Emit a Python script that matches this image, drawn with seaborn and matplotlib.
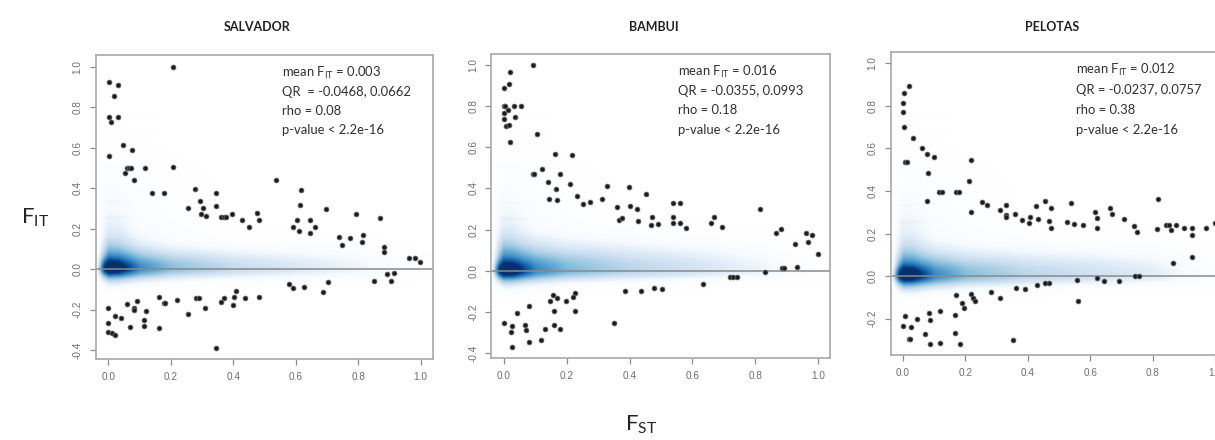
import numpy as np
import matplotlib
matplotlib.use("Agg")
import matplotlib.pyplot as plt
from matplotlib.colors import LinearSegmentedColormap
import seaborn as sns

sns.set_theme(style="white")
plt.rcParams["font.family"] = ["Lato", "DejaVu Sans"]
plt.rcParams["mathtext.fontset"] = "custom"
plt.rcParams["mathtext.rm"] = "Lato"

# ---------------- outlying SNPs (F_ST, F_IT) ----------------
salvador_fst = [0.208, 0.003, 0.030, 0.019, 0.002, 0.009, 0.030, 0.002, 0.046, 0.076,
                0.053, 0.059, 0.066, 0.072, 0.082, 0.118, 0.208, 0.141, 0.177, 0.255,
                0.276, 0.295, 0.302, 0.296, 0.312, 0.344, 0.344, 0.362, 0.369, 0.376,
                0.396, 0.429, 0.450, 0.475, 0.481, 0.536, 0.592, 0.604, 0.613, 0.616,
                0.609, 0.645, 0.647, 0.662, 0.697, 0.739, 0.747, 0.774, 0.792, 0.814,
                0.812, 0.869, 0.883, 0.883, 0.963, 0.982, 0.998,
                0.892, 0.915, 0.904, 0.851, 0.703, 0.686, 0.625, 0.580, 0.592,
                0.000, 0.000, 0.000, 0.013, 0.021, 0.023, 0.041, 0.061, 0.068, 0.081,
                0.081, 0.093, 0.120, 0.115, 0.115, 0.162, 0.177, 0.182, 0.162, 0.221,
                0.254, 0.281, 0.291, 0.311, 0.345, 0.360, 0.369, 0.398, 0.402, 0.409,
                0.439, 0.481]
salvador_fit = [1.000, 0.923, 0.910, 0.855, 0.750, 0.725, 0.750, 0.556, 0.613, 0.586,
                0.474, 0.498, 0.498, 0.498, 0.441, 0.498, 0.502, 0.375, 0.378, 0.304,
                0.395, 0.337, 0.301, 0.273, 0.260, 0.378, 0.312, 0.255, 0.255, 0.255,
                0.273, 0.242, 0.210, 0.276, 0.240, 0.439, 0.210, 0.240, 0.316, 0.390,
                0.189, 0.243, 0.178, 0.209, 0.296, 0.158, 0.118, 0.151, 0.271, 0.168,
                0.133, 0.253, 0.110, 0.086, 0.053, 0.053, 0.035,
                -0.025, -0.021, -0.058, -0.059, -0.063, -0.112, -0.089, -0.076, -0.095,
                -0.194, -0.268, -0.311, -0.318, -0.324, -0.230, -0.243, -0.174, -0.286, -0.191,
                -0.204, -0.158, -0.209, -0.253, -0.283, -0.140, -0.168, -0.168, -0.289, -0.155,
                -0.220, -0.142, -0.142, -0.194, -0.390, -0.163, -0.143, -0.178, -0.138, -0.110,
                -0.145, -0.137]

bambui_fst = [0.093, 0.020, 0.015, 0.000, 0.000, 0.004, 0.000, 0.000, 0.013, 0.005,
              0.016, 0.032, 0.053, 0.035, 0.020, 0.104, 0.091, 0.097, 0.120, 0.163,
              0.217, 0.178, 0.140, 0.142, 0.167, 0.170, 0.210, 0.234, 0.252, 0.274,
              0.312, 0.327, 0.361, 0.367, 0.377, 0.397, 0.403, 0.423, 0.428, 0.452,
              0.468, 0.473, 0.492, 0.537, 0.537, 0.539, 0.561, 0.561, 0.580, 0.661,
              0.670, 0.696, 0.815, 0.868, 0.883, 0.962, 0.982, 0.969, 0.926, 1.000,
              0.932, 0.885, 0.892, 0.833, 0.720, 0.730, 0.741, 0.633, 0.505, 0.477,
              0.438, 0.387, 0.350, 0.226, 0.219, 0.197, 0.227, 0.157, 0.170, 0.148,
              0.158, 0.161, 0.179, 0.132, 0.080, 0.042, 0.000, 0.027, 0.021, 0.067,
              0.069, 0.081, 0.118, 0.025]
bambui_fit = [1.000, 0.964, 0.909, 0.888, 0.800, 0.800, 0.768, 0.739, 0.783, 0.703,
              0.710, 0.800, 0.800, 0.747, 0.627, 0.663, 0.468, 0.468, 0.494, 0.567,
              0.564, 0.468, 0.429, 0.350, 0.395, 0.345, 0.421, 0.361, 0.326, 0.334,
              0.350, 0.413, 0.310, 0.246, 0.256, 0.407, 0.314, 0.301, 0.243, 0.373,
              0.222, 0.263, 0.227, 0.331, 0.259, 0.233, 0.331, 0.230, 0.206, 0.233,
              0.263, 0.211, 0.300, 0.185, 0.201, 0.185, 0.173, 0.141, 0.131, 0.081,
              0.018, 0.015, 0.011, -0.008, -0.031, -0.031, -0.031, -0.063, -0.091, -0.086,
              -0.097, -0.097, -0.253, -0.107, -0.126, -0.149, -0.194, -0.117, -0.133, -0.146,
              -0.194, -0.266, -0.282, -0.285, -0.173, -0.206, -0.253, -0.271, -0.297, -0.266,
              -0.288, -0.347, -0.337, -0.370]

pelotas_fst = [0.020, 0.003, 0.000, 0.000, 0.003, 0.033, 0.005, 0.013, 0.061, 0.076,
               0.100, 0.079, 0.078, 0.115, 0.125, 0.169, 0.178, 0.218, 0.212, 0.218,
               0.253, 0.269, 0.312, 0.330, 0.329, 0.329, 0.360, 0.381, 0.406, 0.405,
               0.426, 0.432, 0.455, 0.469, 0.474, 0.475, 0.527, 0.540, 0.547, 0.576,
               0.614, 0.621, 0.623, 0.665, 0.671, 0.708, 0.741, 0.751, 0.817, 0.814,
               0.844, 0.853, 0.858, 0.874, 0.901, 0.925, 0.925, 0.972, 0.999, 0.866,
               0.927, 0.745, 0.755, 0.693, 0.644, 0.623, 0.562, 0.557, 0.469, 0.454,
               0.431, 0.392, 0.361, 0.311, 0.281, 0.169, 0.188, 0.194, 0.217, 0.225,
               0.232, 0.166, 0.168, 0.182, 0.118, 0.119, 0.084, 0.085, 0.085, 0.069,
               0.044, 0.027, 0.005, 0.000, 0.018, 0.024, 0.354]
pelotas_fit = [0.892, 0.859, 0.814, 0.770, 0.700, 0.648, 0.535, 0.535, 0.601, 0.573,
               0.559, 0.487, 0.354, 0.396, 0.396, 0.396, 0.396, 0.548, 0.446, 0.302,
               0.349, 0.336, 0.310, 0.336, 0.288, 0.277, 0.294, 0.263, 0.279, 0.249,
               0.330, 0.269, 0.354, 0.258, 0.227, 0.322, 0.252, 0.343, 0.243, 0.238,
               0.299, 0.272, 0.228, 0.321, 0.291, 0.268, 0.233, 0.208, 0.362, 0.221,
               0.239, 0.239, 0.218, 0.238, 0.228, 0.228, 0.194, 0.228, 0.250, 0.059,
               0.091, 0.000, 0.000, -0.025, -0.022, -0.009, -0.119, -0.020, -0.033, -0.033,
               -0.044, -0.063, -0.056, -0.105, -0.074, -0.088, -0.128, -0.149, -0.085, -0.103,
               -0.119, -0.185, -0.266, -0.321, -0.163, -0.313, -0.175, -0.207, -0.321, -0.275,
               -0.202, -0.241, -0.188, -0.235, -0.294, -0.294, -0.300]

# ---------------- smoothed SNP density profiles (along F_ST) ----------------
dens_x = [-0.04, -0.015, 0.0, 0.03, 0.06, 0.1, 0.2, 0.4, 0.6, 0.8, 0.9, 1.04]
# sharp concentration of SNPs near F_ST = 0
dens_peak = [0.0, 0.40, 0.50, 0.42, 0.22, 0.06, 0.0, 0.0, 0.0, 0.0, 0.0, 0.0]
# horizontal band around F_IT = 0
salvador_band = [0.0, 0.38, 0.55, 0.56, 0.55, 0.52, 0.44, 0.33, 0.24, 0.15, 0.08, 0.0]
bambui_band   = [0.0, 0.38, 0.56, 0.57, 0.56, 0.54, 0.47, 0.37, 0.28, 0.17, 0.09, 0.0]
pelotas_band  = [0.0, 0.38, 0.55, 0.56, 0.55, 0.53, 0.45, 0.36, 0.29, 0.21, 0.12, 0.0]
# upward / downward spread of the band
salvador_up = [0.06, 0.075, 0.08, 0.08, 0.075, 0.07, 0.065, 0.065, 0.065, 0.06, 0.055, 0.05]
bambui_up   = [0.06, 0.085, 0.09, 0.09, 0.085, 0.085, 0.085, 0.09, 0.085, 0.075, 0.065, 0.06]
pelotas_up  = [0.06, 0.075, 0.08, 0.08, 0.075, 0.075, 0.075, 0.08, 0.08, 0.075, 0.07, 0.065]
dens_down = [0.035, 0.042, 0.045, 0.045, 0.042, 0.04, 0.036, 0.034, 0.032, 0.03, 0.03, 0.03]
# faint haze of intermediate F_IT values at low F_ST
dens_tail = [0.0, 0.18, 0.25, 0.23, 0.18, 0.11, 0.05, 0.0, 0.0, 0.0, 0.0, 0.0]
# faint streaks at common low-count F_IT values
streak_fit = [0.25, 0.33, 0.5, 0.67, 0.75]

panels = [
    ("SALVADOR", salvador_fst, salvador_fit, salvador_band, salvador_up,
     "0.003", "QR  = -0.0468, 0.0662", "rho = 0.08", (-0.446, 1.056),
     [95.8, 55.3, 337.4, 304.0]),
    ("BAMBUI", bambui_fst, bambui_fit, bambui_band, bambui_up,
     "0.016", "QR = -0.0355, 0.0993", "rho = 0.18", (-0.425, 1.055),
     [491.4, 53.7, 339.0, 304.4]),
    ("PELOTAS", pelotas_fst, pelotas_fit, pelotas_band, pelotas_up,
     "0.012", "QR = -0.0237, 0.0757", "rho = 0.38", (-0.373, 1.053),
     [890.5, 52.2, 337.0, 303.1]),
]

W, H = 1215, 440
fig = plt.figure(figsize=(W / 100, H / 100), dpi=100)

blues9 = ["#F7FBFF", "#DEEBF7", "#C6DBEF", "#9ECAE1", "#6BAED6",
          "#4292C6", "#2171B5", "#08519C", "#08306B"]
dens_cmap = LinearSegmentedColormap.from_list("smooth_blues", ["#FFFFFF"] + blues9)

XLIM = (-0.04, 1.04)
gx = np.linspace(XLIM[0], XLIM[1], 500)

for title, fst, fit, band, up, mean_txt, qr_txt, rho_txt, ylim, box in panels:
    left, top, w, h = box
    ax = fig.add_axes([left / W, 1 - (top + h) / H, w / W, h / H])
    ax.set_xlim(*XLIM)
    ax.set_ylim(*ylim)

    # density field assembled from the profile arrays
    gy = np.linspace(ylim[0], ylim[1], 700)
    X, Y = np.meshgrid(gx, gy)
    pk = np.interp(gx, dens_x, dens_peak)[None, :]
    bd = np.interp(gx, dens_x, band)[None, :]
    su = np.interp(gx, dens_x, up)[None, :]
    sd = np.interp(gx, dens_x, dens_down)[None, :]
    tl = np.interp(gx, dens_x, dens_tail)[None, :]
    s = np.where(Y > 0, su, sd)
    field = bd * np.exp(-0.5 * (Y / s) ** 2)
    field += pk * np.exp(-0.5 * (Y / np.where(Y > 0, 0.03, 0.022)) ** 2)
    field += tl * np.exp(-0.5 * (np.clip(Y, 0, None) / 0.25) ** 2) * \
        np.exp(-0.5 * (np.clip(-Y, 0, None) / 0.05) ** 2)
    streak_w = np.interp(gx, [-0.04, -0.01, 0.1, 0.16], [0, 1, 0.6, 0])[None, :]
    for sy in streak_fit:
        field += 0.04 * streak_w * np.exp(-0.5 * ((Y - sy) / 0.006) ** 2)
    field = np.clip(field, 0, 1)
    ax.imshow(field, extent=[XLIM[0], XLIM[1], ylim[0], ylim[1]], origin="lower",
              aspect="auto", cmap=dens_cmap, vmin=0, vmax=1,
              interpolation="bilinear", zorder=0)

    ax.axhline(0, color="#8a8a8a", lw=1.1, zorder=1)
    sns.scatterplot(x=fst, y=fit, ax=ax, s=13, color="#1c1c1c",
                    edgecolor="#7a7a7a", linewidth=0.5, zorder=3, legend=False)

    # statistics block
    ty = 0.968
    step = 0.094
    lines = [r"mean F$_{\mathregular{IT}}$ = " + mean_txt, qr_txt, rho_txt,
             "p-value < 2.2e-16"]
    for i, t in enumerate(lines):
        ax.text(0.555, ty - i * step, t, fontsize=9.4, color="#303030",
                va="center", ha="left", zorder=4)

    ax.set_xticks([0.0, 0.2, 0.4, 0.6, 0.8, 1.0])
    ax.set_xticklabels(["0.0", "0.2", "0.4", "0.6", "0.8", "1.0"])
    yt = [v for v in [-0.4, -0.2, 0.0, 0.2, 0.4, 0.6, 0.8, 1.0] if v >= ylim[0]]
    ax.set_yticks(yt)
    ax.set_yticklabels([f"{v:.1f}" for v in yt], rotation=90, va="center")
    ax.tick_params(axis="both", which="both", direction="out", length=4.5, width=0.9,
                   color="#8a8a8a", labelcolor="#6e6e6e", labelsize=7.2, pad=5,
                   left=True, bottom=True)
    for lab in ax.get_xticklabels() + ax.get_yticklabels():
        lab.set_fontfamily(["Liberation Sans", "DejaVu Sans"])
    for sp in ax.spines.values():
        sp.set_color("#a8a8a8")
        sp.set_linewidth(1.2)
    ax.set_xlabel("")
    ax.set_ylabel("")

    cx = (left + w / 2) / W
    fig.text(cx - 0.006, 1 - 27 / H, title, ha="center", va="center",
             fontsize=9, fontweight="bold", color="#222222")

fig.text(35 / W, 1 - 218 / H, r"F$_{\mathregular{IT}}$", ha="center", va="center",
         fontsize=16, color="#222222")
fig.text(641 / W, 1 - 425 / H, r"F$_{\mathregular{ST}}$", ha="center", va="center",
         fontsize=16, color="#222222")

fig.savefig("out.png", dpi=100, facecolor="white")
